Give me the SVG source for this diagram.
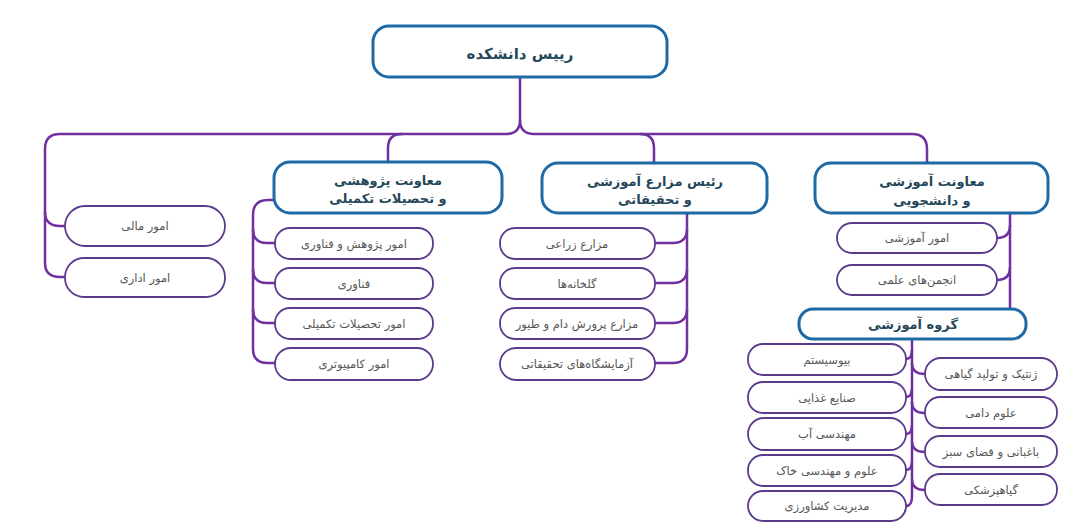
<svg xmlns="http://www.w3.org/2000/svg" width="1067" height="527" viewBox="0 0 1067 527">
<style>
.main{fill:#fff;stroke:#1f6aa5;stroke-width:3}
.leaf{fill:#fff;stroke:#5b3a8c;stroke-width:1.8}
.mt{font-family:"DejaVu Sans",sans-serif;font-size:13px;font-weight:bold;fill:#24475a;text-anchor:middle;direction:rtl}
.lt{font-family:"DejaVu Sans",sans-serif;font-size:11.5px;fill:#555;text-anchor:middle;direction:rtl}
.c{fill:none;stroke:#7030a0;stroke-width:2.5}
</style>
<rect width="1067" height="527" fill="#fff"/>
<g id="connectors">
<path class="c" d="M520,77 V120 Q520,134 506,134 H60 Q45,134 45,149 V263 Q45,277 60,277 H65"/>
<path class="c" d="M45,212 Q45,226 60,226 H65"/>
<path class="c" d="M520,120 Q520,134 534,134 H912 Q927,134 927,149 V163"/>
<path class="c" d="M640,134 Q654,134 654,148 V163"/>
<path class="c" d="M402,134 Q388,134 388,148 V162"/>
<path class="c" d="M274,200 H268 Q253,200 253,215 V349 Q253,363 268,363 H275"/>
<path class="c" d="M253,229 Q253,243 267,243 H275"/>
<path class="c" d="M253,269 Q253,283 267,283 H275"/>
<path class="c" d="M253,309 Q253,323 267,323 H275"/>
<path class="c" d="M687,213 V349 Q687,363 673,363 H655"/>
<path class="c" d="M687,229 Q687,243 673,243 H655"/>
<path class="c" d="M687,269 Q687,283 673,283 H655"/>
<path class="c" d="M687,309 Q687,323 673,323 H655"/>
<path class="c" d="M1010,213 V309"/>
<path class="c" d="M1010,225 Q1010,238 997,238"/>
<path class="c" d="M1010,267 Q1010,280 997,280"/>
<path class="c" d="M912,339 V496 Q912,506 906,506"/>
<path class="c" d="M912,350 Q912,359 906,359"/>
<path class="c" d="M912,388 Q912,397 906,397"/>
<path class="c" d="M912,425 Q912,434 906,434"/>
<path class="c" d="M912,461 Q912,470 906,470"/>
<path class="c" d="M912,363 Q912,374 925,374"/>
<path class="c" d="M912,402 Q912,413 925,413"/>
<path class="c" d="M912,441 Q912,452 925,452"/>
<path class="c" d="M912,479 Q912,490 925,490"/>
</g>
<g id="root"><rect class="main" x="373" y="26" width="294" height="51" rx="16"/><text class="mt" x="520" y="59" style="font-size:15px">رییس دانشکده</text></g>
<g id="vp-research"><rect class="main" x="274" y="162" width="228" height="51" rx="16"/><text class="mt" x="388" y="185">معاونت پژوهشی</text><text class="mt" x="388" y="203">و تحصیلات تکمیلی</text></g>
<g id="farms"><rect class="main" x="542" y="163" width="225" height="50" rx="16"/><text class="mt" x="655" y="186">رئیس مزارع آموزشی</text><text class="mt" x="655" y="204">و تحقیقاتی</text></g>
<g id="vp-edu"><rect class="main" x="815" y="163" width="233" height="50" rx="16"/><text class="mt" x="932" y="186">معاونت آموزشی</text><text class="mt" x="932" y="205">و دانشجویی</text></g>
<g id="dept"><rect class="main" x="799" y="309" width="227" height="30" rx="14"/><text class="mt" x="913" y="329">گروه آموزشی</text></g>
<g id="finance"><rect class="leaf" x="65" y="206" width="160" height="40" rx="20"/><text class="lt" x="145" y="230">امور مالی</text></g>
<g id="admin"><rect class="leaf" x="65" y="258" width="160" height="39" rx="19"/><text class="lt" x="145" y="282">امور اداری</text></g>
<g id="r1"><rect class="leaf" x="275" y="228" width="158" height="31" rx="15"/><text class="lt" x="354" y="248">امور پژوهش و فناوری</text></g>
<g id="r2"><rect class="leaf" x="275" y="268" width="158" height="31" rx="15"/><text class="lt" x="354" y="288">فناوری</text></g>
<g id="r3"><rect class="leaf" x="275" y="308" width="158" height="31" rx="15"/><text class="lt" x="354" y="328">امور تحصیلات تکمیلی</text></g>
<g id="r4"><rect class="leaf" x="275" y="348" width="158" height="32" rx="16"/><text class="lt" x="354" y="368">امور کامپیوتری</text></g>
<g id="f1"><rect class="leaf" x="500" y="228" width="155" height="31" rx="15"/><text class="lt" x="577" y="248">مزارع زراعی</text></g>
<g id="f2"><rect class="leaf" x="500" y="268" width="155" height="31" rx="15"/><text class="lt" x="577" y="288">گلخانه‌ها</text></g>
<g id="f3"><rect class="leaf" x="500" y="308" width="155" height="31" rx="15"/><text class="lt" x="577" y="328">مزارع پرورش دام و طیور</text></g>
<g id="f4"><rect class="leaf" x="500" y="348" width="155" height="32" rx="16"/><text class="lt" x="577" y="368">آزمایشگاه‌های تحقیقاتی</text></g>
<g id="e1"><rect class="leaf" x="837" y="223" width="160" height="30" rx="15"/><text class="lt" x="917" y="242">امور آموزشی</text></g>
<g id="e2"><rect class="leaf" x="837" y="265" width="160" height="30" rx="15"/><text class="lt" x="917" y="284">انجمن‌های علمی</text></g>
<g id="d1"><rect class="leaf" x="748" y="344" width="158" height="31" rx="15"/><text class="lt" x="827" y="364">بیوسیستم</text></g>
<g id="d2"><rect class="leaf" x="748" y="382" width="158" height="31" rx="15"/><text class="lt" x="827" y="402">صنایع غذایی</text></g>
<g id="d3"><rect class="leaf" x="748" y="418" width="158" height="32" rx="16"/><text class="lt" x="827" y="438">مهندسی آب</text></g>
<g id="d4"><rect class="leaf" x="748" y="455" width="158" height="31" rx="15"/><text class="lt" x="827" y="475">علوم و مهندسی خاک</text></g>
<g id="d5"><rect class="leaf" x="748" y="491" width="158" height="30" rx="15"/><text class="lt" x="827" y="510">مدیریت کشاورزی</text></g>
<g id="g1"><rect class="leaf" x="925" y="358" width="132" height="32" rx="16"/><text class="lt" x="991" y="378">ژنتیک و تولید گیاهی</text></g>
<g id="g2"><rect class="leaf" x="925" y="397" width="132" height="31" rx="15"/><text class="lt" x="991" y="417">علوم دامی</text></g>
<g id="g3"><rect class="leaf" x="925" y="436" width="132" height="31" rx="15"/><text class="lt" x="991" y="456">باغبانی و فضای سبز</text></g>
<g id="g4"><rect class="leaf" x="925" y="474" width="132" height="31" rx="15"/><text class="lt" x="991" y="494">گیاهپزشکی</text></g>
</svg>
